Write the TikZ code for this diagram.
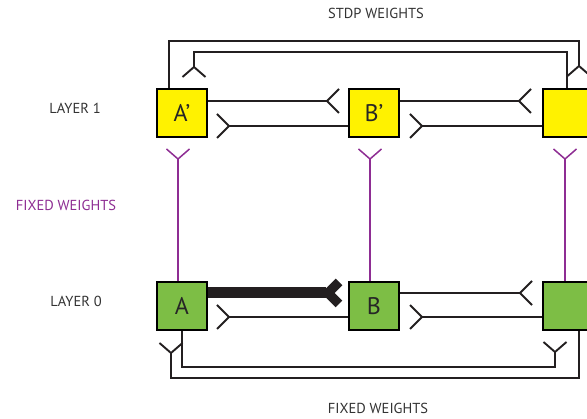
\documentclass[tikz,border=0pt]{standalone}
\usepackage{fontspec}
\setmainfont{PT Sans}
\begin{document}
\begin{tikzpicture}[x=1pt,y=-1pt,
  neuron/.style={draw=black,line width=1.8pt,minimum width=50pt,minimum height=48pt,inner sep=0pt,font=\fontsize{24}{26}\selectfont,text=black!85},
  l1/.style={neuron,fill=yellowbox},
  l0/.style={neuron,fill=greenbox},
  fixconn/.style={draw=purp,line width=1.5pt},
  lbl/.style={font=\fontsize{14.5}{16}\selectfont,text=textgray},
  forkR/.pic={\draw[line join=miter] (12,-12) -- (0,0) -- (12,12);},
  forkL/.pic={\draw[line join=miter] (-12,-12) -- (0,0) -- (-12,12);},
  forkD/.pic={\draw[line join=miter] (-11.5,10) -- (0,0) -- (11.5,10);},
  forkU/.pic={\draw[line join=miter] (-11.5,-10) -- (0,0) -- (11.5,-10);},
]
\definecolor{yellowbox}{HTML}{FFF200}
\definecolor{greenbox}{HTML}{7DBE45}
\definecolor{linegray}{HTML}{231F20}
\definecolor{purp}{HTML}{8E2D93}
\definecolor{textgray}{HTML}{333333}
\clip (0,0) rectangle (587,419);
\fill[white] (0,0) rectangle (587,419);

% labels
\node[lbl] (stdp) at (376,13) {STDP WEIGHTS};
\node[lbl] (lay1) at (75,108) {LAYER 1};
\node[lbl,text=purp] (fixw) at (66,205) {FIXED WEIGHTS};
\node[lbl] (lay0) at (76,301) {LAYER 0};
\node[lbl] (fixb) at (378,408) {FIXED WEIGHTS};

% nodes
\node[l1] (Ap) at (182,113) {A’};
\node[l1] (Bp) at (374,113) {B’};
\node[l1] (Cp) at (568,113) {};
\node[l0] (A) at (182,306) {A};
\node[l0] (B) at (374,306) {B};
\node[l0] (C) at (568,306) {};

% coordinates of synapse forks
\coordinate (s1) at (327,101);
\coordinate (s2) at (229,126);
\coordinate (s3) at (519,101);
\coordinate (s4) at (422,126);
\coordinate (s5) at (194,67);
\coordinate (s6) at (579,66);
\coordinate (s7) at (422,317);
\coordinate (s8) at (229,317);
\coordinate (s9) at (520,293);
\coordinate (s10) at (555,352);
\coordinate (s11) at (171,353);
\coordinate (s12) at (328,293);
\coordinate (p1) at (178,159);
\coordinate (p2) at (370,159);
\coordinate (p3) at (565,159);

% purple fixed connections
\begin{scope}[fixconn]
\draw (A.north -| p1) -- (p1);
\draw (B.north -| p2) -- (p2);
\draw (C.north -| p3) -- (p3);
\pic[purp,line width=1.5pt] at (p1) {forkU};
\pic[purp,line width=1.5pt] at (p2) {forkU};
\pic[purp,line width=1.5pt] at (p3) {forkU};
\end{scope}

\begin{scope}[linegray,line width=1.9pt]
% layer 1
\draw (Ap.east |- s1) -- (s1); \pic at (s1) {forkR};
\draw (Bp.west |- s2) -- (s2); \pic at (s2) {forkL};
\draw (Bp.east |- s3) -- (s3); \pic at (s3) {forkR};
\draw (Cp.west |- s4) -- (s4); \pic at (s4) {forkL};
\draw ([xshift=-13pt]Ap.north) -- ++(0,-47) -| (s6); \pic at (s6) {forkD};
\draw ([xshift=-1pt]Cp.north) -- ++(0,-36) -| (s5); \pic at (s5) {forkD};
% layer 0
\draw (B.west |- s8) -- (s8); \pic at (s8) {forkL};
\draw (B.east |- s9) -- (s9); \pic at (s9) {forkR};
\draw (C.west |- s7) -- (s7); \pic at (s7) {forkL};
\draw (A.south) -- ++(0,36) -| (s10); \pic at (s10) {forkU};
\draw ([xshift=11pt]C.south) -- ++(0,47) -| (s11); \pic at (s11) {forkU};
% strong learned connection
\draw[line width=11pt] (A.east |- s12) -- ([xshift=-2pt]s12);
\draw[line width=9.5pt,line join=miter,miter limit=10] (339,282) -- (s12) -- (339,304);
\end{scope}

% redraw nodes on top of lines
\node[l1] at (Ap) {A’};
\node[l1] at (Bp) {B’};
\node[l1] at (Cp) {};
\node[l0] at (A) {A};
\node[l0] at (B) {B};
\node[l0] at (C) {};
\end{tikzpicture}
\end{document}
